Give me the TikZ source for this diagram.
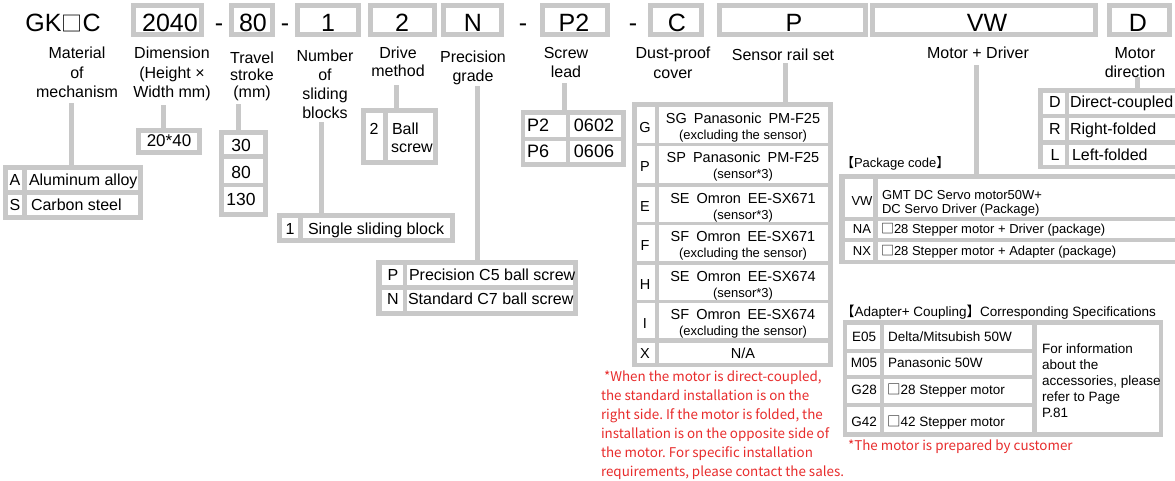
\documentclass[tikz,border=0pt]{standalone}
\usepackage{fontspec}
\setmainfont{Liberation Sans}
\newfontfamily\cjkf{Noto Sans CJK SC}
\definecolor{bg}{RGB}{200,200,200}
\definecolor{redt}{RGB}{232,44,44}
\frenchspacing
\newcommand\fsz[2]{\fontsize{#1}{#2}\selectfont}
\newcommand\sqg{{\cjkf □}}
\newcommand\wc[4]{\fill[white] (#1,#2) rectangle (#3,#4);}
\newcommand\tbl[5]{\node[tblsty, anchor=north west, minimum width=#4pt-#2pt, minimum height=#5pt-#3pt] (#1) at (#2,#3) {};}
\newcommand\hdr[5]{\fill[bg] (#2,3) rectangle (#3,37); \fill[white] (#2+5,8) rectangle (#3-5,32); \node[htxt] (#1) at (#4,31) {#5};}
\tikzset{
  txt/.style={inner sep=0pt, outer sep=0pt},
  tblsty/.style={txt, fill=bg, draw=none},
  htxt/.style={txt, anchor=base, font=\fsz{25}{30}},
  lab/.style={txt, anchor=north, align=center, font=\fsz{16}{19.5}},
  c16/.style={txt, anchor=base, font=\fsz{16}{19}},
  l16/.style={txt, anchor=base west, font=\fsz{16}{19}},
  conn/.style={draw=bg, line width=5pt},
  s1/.style={txt, anchor=base, font=\fsz{14.5}{16}},
  s2/.style={txt, anchor=base, font=\fsz{13}{15}},
  c13/.style={txt, anchor=base, font=\fsz{13}{15}},
  l13/.style={txt, anchor=base west, font=\fsz{13}{15}},
  c135/.style={txt, anchor=base, font=\fsz{13.5}{16}},
  l135/.style={txt, anchor=base west, font=\fsz{13.5}{16}},
  rnote/.style={txt, text=redt, font=\cjkf\fsz{13.4}{19}},
}
\begin{document}
\begin{tikzpicture}[x=1pt,y=-1pt]
\useasboundingbox[fill=white] (0,0) rectangle (1175,480);

% ---------- header row ----------
\node[htxt] (hgk) at (63,31) {GK{\cjkf\fsz{21}{25}□}C};
\hdr{h2040}{131}{204}{170}{2040}
\node[htxt] (hd1) at (219,31) {-};
\hdr{h80}{229}{275}{253}{80}
\node[htxt] (hd2) at (285,31) {-};
\hdr{h1}{295}{361}{328}{1}
\hdr{h2}{368}{437}{402}{2}
\hdr{hN}{441}{504}{473}{N}
\node[htxt] (hd3) at (523,31) {-};
\hdr{hP2}{540}{610}{574}{P2}
\node[htxt] (hd4) at (633,31) {-};
\hdr{hC}{648}{704}{677}{C}
\hdr{hP}{717}{868}{794}{P}
\hdr{hVW}{870}{1098}{987}{VW}
\hdr{hD}{1107}{1172}{1138}{D}

% ---------- labels ----------
\node[lab] (lmat) at (77,46) {\rule{0pt}{0.8em}Material\\of\\mechanism};
\node[lab] (ldim) at (172,46) {\rule{0pt}{0.8em}Dimension\\(Height ×\\Width mm)};
\node[lab, font=\fsz{16}{17}] (ltrav) at (252,51) {\rule{0pt}{0.8em}Travel\\stroke\\(mm)};
\node[lab, font=\fsz{16}{19}] (lnum) at (325,49) {\rule{0pt}{0.8em}Number\\of\\sliding\\blocks};
\node[lab, font=\fsz{16}{18}] (ldrv) at (398,46) {\rule{0pt}{0.8em}Drive\\method};
\node[lab, font=\fsz{16}{18.5}] (lprec) at (473,50) {\rule{0pt}{0.8em}Precision\\grade};
\node[lab, font=\fsz{16}{19}] (lscrew) at (566,46) {\rule{0pt}{0.8em}Screw\\lead};
\node[lab, font=\fsz{16}{20}] (ldust) at (673,46) {\rule{0pt}{0.8em}Dust-proof\\cover};
\node[c16] (lsens) at (783,60.8) {Sensor rail set};
\node[c16] (lmd) at (978,58.8) {Motor + Driver};
\node[lab, font=\fsz{16}{19}] (lmdir) at (1135,46) {\rule{0pt}{0.8em}Motor\\direction};

% ---------- material table ----------
\tbl{tAS}{3}{165}{143}{220}
\wc{8}{170}{22}{190}\wc{27}{170}{138}{190}
\wc{8}{195}{22}{215}\wc{27}{195}{138}{215}
\node[c16] (asA) at (15,185.8) {A};
\node[l16] (asAt) at (29,185.8) {Aluminum alloy};
\node[c16] (asS) at (15,210.5) {S};
\node[l16] (asSt) at (31,210.5) {Carbon steel};
\coordinate (cmat) at (71,103);
\draw[conn] (cmat) -- (cmat |- tAS.north);

% ---------- dimension ----------
\tbl{tDim}{136}{128}{202}{155}
\wc{141}{133}{197}{150}
\node[txt, anchor=base, font=\fsz{17}{20}] (dim) at (169,146.5) {20*40};
\coordinate (cdim) at (163,105);
\draw[conn] (cdim) -- (cdim |- tDim.north);

% ---------- travel ----------
\tbl{tTrav}{219}{130}{268}{217}
\wc{224}{135}{263}{154}\wc{224}{159}{263}{183}\wc{224}{187}{263}{212}
\node[txt, anchor=base, font=\fsz{17.5}{20}] (tr30) at (241,151.3) {30};
\node[txt, anchor=base, font=\fsz{17.5}{20}] (tr80) at (241,178.3) {80};
\node[txt, anchor=base, font=\fsz{17.5}{20}] (tr130) at (241,205.3) {130};
\coordinate (ctrav) at (238,104);
\draw[conn] (ctrav) -- (ctrav |- tTrav.north);

% ---------- sliding blocks ----------
\tbl{tSingle}{277}{213}{455}{243}
\wc{282}{218}{298}{238}\wc{303}{218}{450}{238}
\node[c16] (sb1) at (290,234.3) {1};
\node[l16] (sb1t) at (308,234.3) {Single sliding block};
\coordinate (cnum) at (321,122);
\draw[conn] (cnum) -- (cnum |- tSingle.north);

% ---------- drive method ----------
\tbl{tDrive}{361}{108}{438}{165}
\wc{366}{113}{383}{160}\wc{388}{113}{433}{160}
\node[c16] (dr2) at (374,134.8) {2};
\node[l16] (drb) at (392,134.8) {Ball};
\node[l16] (drs) at (391,152.5) {screw};
\coordinate (cdrv) at (396,85);
\draw[conn] (cdrv) -- (cdrv |- tDrive.north);

% ---------- precision ----------
\tbl{tPrec}{376}{260}{578}{316}
\wc{382}{265}{403}{285}\wc{407}{265}{573}{285}
\wc{382}{290}{403}{311}\wc{407}{290}{573}{311}
\node[c16] (prP) at (393,280.8) {P};
\node[l16] (prPt) at (409,280.8) {Precision C5 ball screw};
\node[c16] (prN) at (393,304.8) {N};
\node[l16] (prNt) at (408,304.8) {Standard C7 ball screw};
\coordinate (cprec) at (477,86);
\draw[conn] (cprec) -- (cprec |- tPrec.north);

% ---------- screw lead ----------
\tbl{tScrew}{521}{110}{626}{167}
\wc{525}{115}{566}{137}\wc{570}{115}{621}{137}
\wc{525}{141}{566}{162}\wc{570}{141}{621}{162}
\node[txt, anchor=base west, font=\fsz{18}{20}] (slP2) at (527,131) {P2};
\node[txt, anchor=base, font=\fsz{18}{20}] (slv1) at (594,131) {0602};
\node[txt, anchor=base west, font=\fsz{18}{20}] (slP6) at (527,157) {P6};
\node[txt, anchor=base, font=\fsz{18}{20}] (slv2) at (594,157) {0606};
\coordinate (cscrew) at (564,83);
\draw[conn] (cscrew) -- (cscrew |- tScrew.north);

% ---------- sensor rail ----------
\tbl{tSens}{632}{102}{833}{367}
\wc{637}{107}{655}{143}\wc{659}{107}{828}{143}
\wc{637}{146}{655}{183}\wc{659}{146}{828}{183}
\wc{637}{187}{655}{222}\wc{659}{187}{828}{222}
\wc{637}{225}{655}{261}\wc{659}{225}{828}{261}
\wc{637}{265}{655}{300}\wc{659}{265}{828}{300}
\wc{637}{303}{655}{338}\wc{659}{303}{828}{338}
\wc{637}{343}{655}{363}\wc{659}{343}{828}{363}
\node[s1] (sGk) at (645,132) {G};
\node[s1] (sG1) at (743,123.2) {SG\hspace{7pt}Panasonic\hspace{7pt}PM-F25};
\node[s2] (sG2) at (743,139.7) {(excluding the sensor)};
\node[s1] (sPk) at (645,171.5) {P};
\node[s1] (sP1) at (743,162.2) {SP\hspace{7pt}Panasonic\hspace{7pt}PM-F25};
\node[s2] (sP2) at (743,178.7) {(sensor*3)};
\node[s1] (sEk) at (645,211) {E};
\node[s1] (sE1) at (743,203.2) {SE\hspace{7pt}Omron\hspace{7pt}EE-SX671};
\node[s2] (sE2) at (743,219.7) {(sensor*3)};
\node[s1] (sFk) at (645,250) {F};
\node[s1] (sF1) at (743,241.2) {SF\hspace{7pt}Omron\hspace{7pt}EE-SX671};
\node[s2] (sF2) at (743,257.7) {(excluding the sensor)};
\node[s1] (sHk) at (645,289.5) {H};
\node[s1] (sH1) at (743,281.2) {SE\hspace{7pt}Omron\hspace{7pt}EE-SX674};
\node[s2] (sH2) at (743,297.7) {(sensor*3)};
\node[s1] (sIk) at (645,328) {I};
\node[s1] (sI1) at (743,319.2) {SF\hspace{7pt}Omron\hspace{7pt}EE-SX674};
\node[s2] (sI2) at (743,335.7) {(excluding the sensor)};
\node[s1] (sXk) at (645,358) {X};
\node[s1] (sX1) at (743,358) {N/A};
\coordinate (csens) at (785,63);
\draw[conn] (csens) -- (csens |- tSens.north);

\node[rnote, anchor=north west, align=left] (note1) at (601,370.8) {\rule{0pt}{0.8em}\hspace{3pt}*When the motor is direct-coupled,\\the standard installation is on the\\right side. If the motor is folded, the\\installation is on the opposite side of\\the motor. For specific installation\\requirements, please contact the sales.};

% ---------- motor direction ----------
\tbl{tMdir}{1038}{88}{1180}{169}
\wc{1043}{93}{1065}{114}\wc{1069}{93}{1180}{114}
\wc{1043}{118}{1065}{140}\wc{1069}{118}{1180}{140}
\wc{1043}{145}{1065}{165}\wc{1069}{145}{1180}{165}
\node[c16] (mdD) at (1055,107.8) {D};
\node[l16] (mdDt) at (1070,107.8) {Direct-coupled};
\node[c16] (mdR) at (1055,134.8) {R};
\node[l16] (mdRt) at (1070,134.8) {Right-folded};
\node[c16] (mdL) at (1055,160.8) {L};
\node[l16] (mdLt) at (1072,160.8) {Left-folded};
\coordinate (cmdir) at (1137,77);
\draw[conn] (cmdir) -- (cmdir |- tMdir.north);

% ---------- package code ----------
\node[l13] (pkgl) at (841,167.7) {{\cjkf 【}Package code{\cjkf 】}};
\tbl{tPkg}{839}{174}{1180}{264}
\wc{845}{179}{873}{217}\wc{878}{179}{1180}{217}
\wc{845}{221}{873}{238}\wc{878}{221}{1180}{238}
\wc{845}{242}{873}{260}\wc{878}{242}{1180}{260}
\node[c13] (pVW) at (862,205.5) {VW};
\node[l13] (pVW1) at (882,199.7) {GMT DC Servo motor50W+};
\node[l13] (pVW2) at (882,213.2) {DC Servo Driver (Package)};
\node[c13] (pNA) at (862,233.2) {NA};
\node[l13] (pNAt) at (881,233.2) {\sqg 28 Stepper motor + Driver (package)};
\node[c13] (pNX) at (862,255.7) {NX};
\node[l13] (pNXt) at (881,255.7) {\sqg 28 Stepper motor + Adapter (package)};
\coordinate (cmd) at (976,65);
\draw[conn] (cmd) -- (cmd |- tPkg.north);

% ---------- adapter + coupling ----------
\node[l135] (adl) at (841,316) {{\cjkf 【}Adapter+ Coupling{\cjkf 】}Corresponding Specifications};
\tbl{tAd}{843}{320}{1163}{437}
\wc{847}{325}{880}{349}\wc{884}{325}{1032}{349}
\wc{847}{353}{880}{375}\wc{884}{353}{1032}{375}
\wc{847}{379}{880}{403}\wc{884}{379}{1032}{403}
\wc{847}{407}{880}{432}\wc{884}{407}{1032}{432}
\wc{1037}{325}{1159}{432}
\node[c135] (aE) at (864,341.9) {E05};
\node[l135] (aEt) at (888,341.9) {Delta/Mitsubish 50W};
\node[c135] (aM) at (864,367.9) {M05};
\node[l135] (aMt) at (888,367.9) {Panasonic 50W};
\node[c135] (aG2) at (864,394.9) {G28};
\node[l135] (aG2t) at (887,394.9) {\sqg 28 Stepper motor};
\node[c135] (aG4) at (864,426.9) {G42};
\node[l135] (aG4t) at (887,426.9) {\sqg 42 Stepper motor};
\node[txt, anchor=north west, align=left, font=\fsz{13.5}{16}] (aInfo) at (1042,343.1) {\rule{0pt}{0.8em}For information\\about the\\accessories, please\\refer to Page\\P.81};

\node[rnote, anchor=base west] (note2) at (848,450.6) {*The motor is prepared by customer};
\end{tikzpicture}
\end{document}
